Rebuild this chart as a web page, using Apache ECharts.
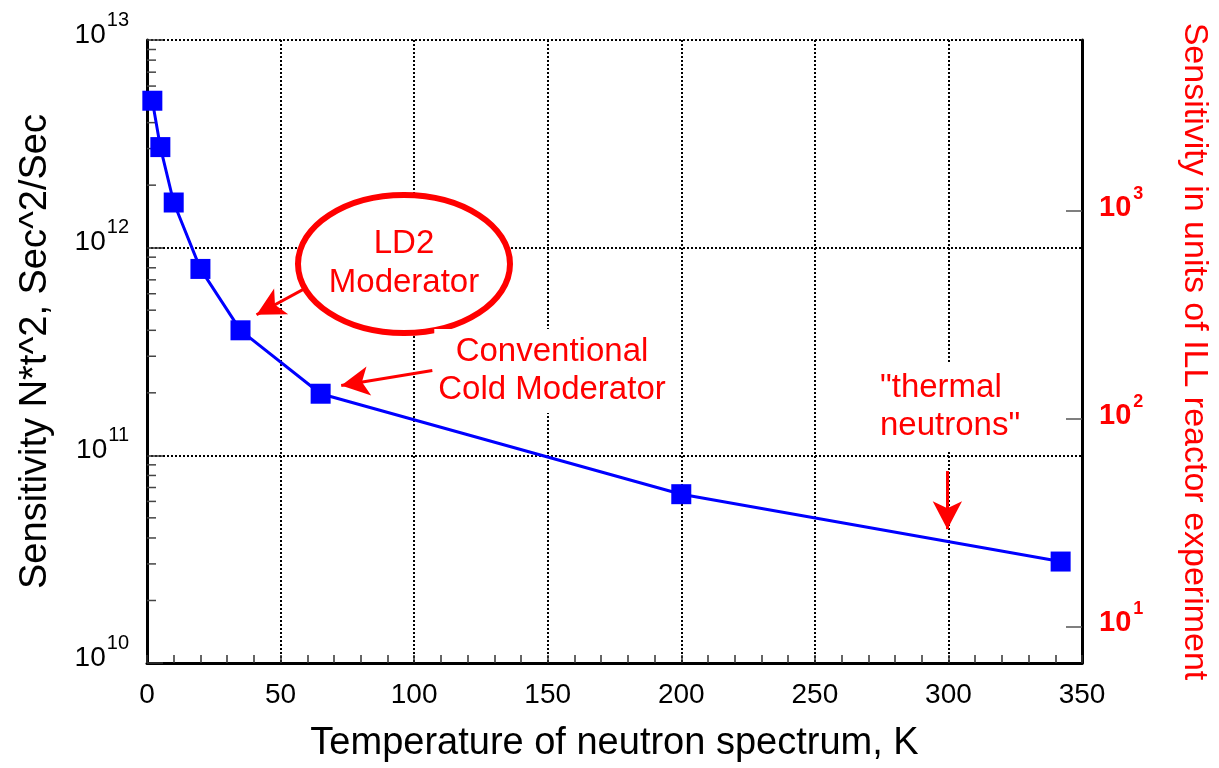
<!DOCTYPE html>
<html>
<head>
<meta charset="utf-8">
<script src="https://cdn.jsdelivr.net/npm/echarts@6/dist/echarts.min.js"></script>
<style>
html,body{margin:0;padding:0;background:#fff;}
#chart{width:1219px;height:768px;}
</style>
</head>
<body>
<div id="chart"></div>
<script>
// temperature of neutron spectrum, K
var temps = [2, 5, 10, 20, 35, 65, 200, 342];
// sensitivity N*t^2, sec^2/sec
var sensitivity = [5.1e12, 3.05e12, 1.65e12, 7.9e11, 4.0e11, 1.98e11, 6.5e10, 3.08e10];
// one ILL reactor experiment in the same units (right axis)
var illUnit = 1.5e9;
var xTicks = [0, 350, 50];
var yRange = [1e10, 1e13];
// log minor ticks on the left axis
var minorDigits = [2, 3, 4, 5, 6, 7, 8, 9];
var minorDecades = [1e10, 1e11, 1e12];

var font = '"Liberation Sans", Arial, sans-serif';

var points = [];
for (var i = 0; i < temps.length; i++) {
	points.push([temps[i], sensitivity[i]]);
}
var minorTicks = [];
for (var d = 0; d < minorDecades.length; d++) {
	for (var k = 0; k < minorDigits.length; k++) {
		minorTicks.push([0, minorDigits[k] * minorDecades[d]]);
	}
}

var isPow10 = function(v) {
	var e = Math.log10(v);
	return Math.abs(e - Math.round(e)) < 1e-6;
};
var powLabel = function(v) {
	return '{b|10}{s|' + Math.round(Math.log10(v)) + '}';
};

var chart = echarts.init(document.getElementById('chart'));
chart.setOption({
	animation: false,
	backgroundColor: '#fff',
	grid: {left: 147, right: 135, top: 40, bottom: 104, containLabel: false},
	xAxis: {
		type: 'value',
		min: xTicks[0], max: xTicks[1], interval: xTicks[2],
		name: 'Temperature of neutron spectrum, K',
		nameLocation: 'middle', nameGap: 62,
		nameTextStyle: {fontSize: 38, color: '#000', fontFamily: font},
		axisLine: {lineStyle: {color: '#000', width: 3}},
		axisTick: {inside: true, length: 8, lineStyle: {color: '#333', width: 1.5}},
		minorTick: {show: true, splitNumber: 5, length: 8, lineStyle: {color: '#333', width: 1.5}},
		axisLabel: {fontSize: 28, color: '#000', fontFamily: font, margin: 18},
		splitLine: {show: true, lineStyle: {color: '#000', width: 2, type: [2, 2]}}
	},
	yAxis: [{
		type: 'log', logBase: 10,
		min: yRange[0], max: yRange[1],
		position: 'left',
		name: 'Sensitivity N*t^2, Sec^2/Sec',
		nameLocation: 'middle', nameGap: 92,
		nameTextStyle: {fontSize: 38, color: '#000', fontFamily: font},
		axisLine: {show: true, onZero: false, lineStyle: {color: '#000', width: 3}},
		axisTick: {inside: true, length: 16, lineStyle: {color: '#333', width: 1.5}},
		axisLabel: {
			margin: 18,
			formatter: powLabel,
			rich: {
				b: {fontSize: 28, color: '#000', fontFamily: font, padding: [0, 0, 10, 0]},
				s: {fontSize: 20, color: '#000', fontFamily: font, padding: [0, 0, 40, 1]}
			}
		},
		splitLine: {show: true, lineStyle: {color: '#000', width: 2, type: [2, 2]}}
	}, {
		type: 'log', logBase: 10,
		min: yRange[0] / illUnit, max: yRange[1] / illUnit,
		position: 'right',
		name: 'Sensitivity in units of ILL reactor experiment',
		nameLocation: 'middle', nameGap: 95, nameRotate: -90,
		nameTextStyle: {fontSize: 34, color: '#ff0000', fontFamily: font},
		axisLine: {show: true, onZero: false, lineStyle: {color: '#000', width: 3}},
		axisTick: {inside: true, length: 16, lineStyle: {color: '#555', width: 1.5}},
		axisLabel: {
			margin: 17,
			showMinLabel: false, showMaxLabel: false,
			formatter: function(v) {
				return isPow10(v) ? powLabel(v) : '';
			},
			rich: {
				b: {fontSize: 29, color: '#ff0000', fontWeight: 'bold', fontFamily: font, padding: [0, 0, 6, 0]},
				s: {fontSize: 18, color: '#ff0000', fontWeight: 'bold', fontFamily: font, padding: [0, 0, 34, 2]}
			}
		},
		splitLine: {show: false}
	}],
	series: [{
		type: 'line',
		data: points,
		yAxisIndex: 0,
		symbol: 'rect',
		symbolSize: 20,
		lineStyle: {color: '#0000ff', width: 3},
		itemStyle: {color: '#0000ff'},
		z: 5,
		markLine: {
			silent: true,
			symbol: ['none', 'arrow'],
			symbolSize: [22, 28],
			label: {show: false},
			lineStyle: {color: '#ff0000', width: 3, type: 'solid'},
			data: [
				[{coord: [61.6, 6.62e11]}, {coord: [41.0, 4.75e11]}],
				[{coord: [106.8, 2.56e11]}, {coord: [72.7, 2.17e11]}],
				[{coord: [299.6, 8.4e10]}, {coord: [299.6, 4.41e10]}]
			]
		}
	}, {
		type: 'custom',
		yAxisIndex: 0,
		silent: true,
		clip: false,
		data: minorTicks,
		encode: {x: 0, y: 1},
		renderItem: function(params, api) {
			var p = api.coord([api.value(0), api.value(1)]);
			return {
				type: 'line',
				shape: {x1: p[0], y1: p[1], x2: p[0] + 9, y2: p[1]},
				style: {stroke: '#444', lineWidth: 1.5}
			};
		}
	}],
	graphic: [{
		type: 'ellipse',
		shape: {cx: 404, cy: 264, rx: 106, ry: 69},
		style: {fill: '#fff', stroke: '#ff0000', lineWidth: 6},
		z: 20
	}, {
		type: 'text',
		x: 404, y: 263,
		style: {
			text: 'LD2\nModerator', fill: '#ff0000', fontSize: 33, fontFamily: font,
			align: 'center', verticalAlign: 'middle', lineHeight: 39
		},
		z: 21
	}, {
		type: 'text',
		x: 552, y: 371,
		style: {
			text: 'Conventional\nCold Moderator', fill: '#ff0000', fontSize: 33, fontFamily: font,
			align: 'center', verticalAlign: 'middle', lineHeight: 38,
			backgroundColor: '#fff', padding: [4, 4]
		},
		z: 21
	}, {
		type: 'text',
		x: 876, y: 407,
		style: {
			text: '"thermal\nneutrons"', fill: '#ff0000', fontSize: 33, fontFamily: font,
			align: 'left', verticalAlign: 'middle', lineHeight: 38,
			backgroundColor: '#fff', padding: [6, 4, 6, 4]
		},
		z: 21
	}]
});
</script>
</body>
</html>
